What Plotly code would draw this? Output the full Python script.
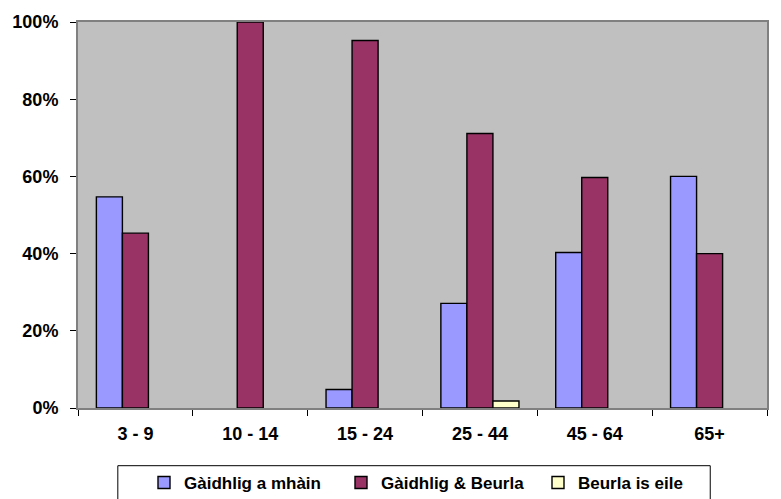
import plotly.graph_objects as go

# Age groups and share of speakers in each language category (%)
age_groups = ["3 - 9", "10 - 14", "15 - 24", "25 - 44", "45 - 64", "65+"]
gaelic_only = [54.7, 0.0, 4.8, 27.1, 40.3, 60.0]
gaelic_english = [45.3, 100.0, 95.2, 71.1, 59.7, 40.0]
english_other = [0.0, 0.0, 0.0, 1.8, 0.0, 0.0]

series_names = ["Gàidhlig a mhàin", "Gàidhlig & Beurla", "Beurla is eile"]
series_colors = ["#9999FF", "#993366", "#FFFFCC"]
y_ticks = [0, 20, 40, 60, 80, 100]
y_tick_labels = ["0%", "20%", "40%", "60%", "80%", "100%"]

FONT = "Liberation Sans, Arial, sans-serif"
W, H = 781, 499
L, R, T, B = 76, 13, 20, 91
plot_h = H - T - B
plot_w = W - L - R

fig = go.Figure()
for name, values, color in zip(series_names,
                               [gaelic_only, gaelic_english, english_other],
                               series_colors):
    # a zero share leaves its slot empty instead of drawing a flat outline
    shown = [v if v > 0 else None for v in values]
    fig.add_trace(go.Bar(
        x=age_groups, y=shown, name=name,
        marker=dict(color=color, line=dict(color="#000000", width=1.4)),
    ))

fig.update_layout(
    width=W, height=H,
    margin=dict(l=L, r=R, t=T, b=B),
    paper_bgcolor="#FFFFFF",
    plot_bgcolor="#C0C0C0",
    barmode="group",
    bargap=0.32,
    bargroupgap=0,
    font=dict(family=FONT, size=17, color="#000000"),
    showlegend=True,
    legend=dict(
        orientation="h",
        xref="container", x=(150 - 6) / W, xanchor="left",
        yref="container", y=(H - 483) / H, yanchor="middle",
        borderwidth=0,
        bgcolor="rgba(0,0,0,0)",
        font=dict(family=FONT, size=17, color="#000000", weight="bold"),
        entrywidth=152,
        itemwidth=30,
    ),
    # legend frame, running off the bottom edge of the page
    shapes=[dict(
        type="rect", xref="paper", yref="paper",
        x0=(116 - L) / plot_w, x1=(711 - L) / plot_w,
        y0=-(466 - (T + plot_h)) / plot_h, y1=-(530 - (T + plot_h)) / plot_h,
        line=dict(color="#000000", width=1), fillcolor="#FFFFFF", layer="below",
    )],
)
fig.update_xaxes(
    showline=True, linecolor="#808080", linewidth=2, mirror=True,
    ticks="outside", tickson="boundaries", ticklen=6, tickcolor="#000000",
    tickfont=dict(family=FONT, size=18, weight="bold"),
    ticklabelstandoff=8,
    showgrid=False,
)
fig.update_yaxes(
    range=[0, 100], tickvals=y_ticks, ticktext=y_tick_labels,
    showline=True, linecolor="#808080", linewidth=2, mirror=True,
    ticks="outside", ticklen=6, tickcolor="#000000",
    tickfont=dict(family=FONT, size=18, weight="bold"),
    ticklabelstandoff=8,
    showgrid=False, zeroline=False,
)

fig.write_html("out.html")
